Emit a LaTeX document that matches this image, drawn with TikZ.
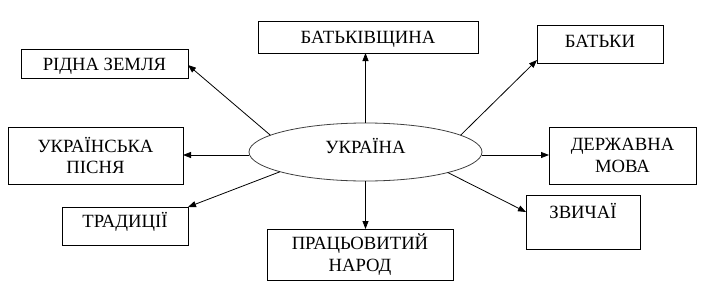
\documentclass[tikz,border=0pt]{standalone}
\usepackage{fontspec}
\setmainfont{Liberation Serif}
\usetikzlibrary{arrows.meta,shapes.geometric}
\begin{document}
\begin{tikzpicture}[x=0.75pt,y=-0.75pt,
  every node/.style={font=\fontsize{14}{16.1}\selectfont},
  boxnode/.style={draw,line width=0.75pt,rectangle,inner sep=0pt,outer sep=0pt,align=center},
  conn/.style={line width=0.6pt,-{Triangle[length=6pt,width=4.5pt]}}]
\useasboundingbox (0,0) rectangle (708,297);
\node[draw=black!75,line width=0.6pt,ellipse,inner sep=0pt,outer sep=0pt,minimum width=233*0.75pt,minimum height=58*0.75pt,text height=10pt,text depth=8.3pt] (e) at (365.5,152) {УКРАЇНА};
\node[boxnode,minimum width=167*0.75pt,minimum height=29*0.75pt,text height=11pt,text depth=0.3pt] (rid) at (104.5,63.5) {РІДНА ЗЕМЛЯ};
\node[boxnode,minimum width=220*0.75pt,minimum height=32*0.75pt,text height=10pt,text depth=0.3pt] (bat) at (368,37) {БАТЬКІВЩИНА};
\node[boxnode,minimum width=126*0.75pt,minimum height=38*0.75pt,text height=10pt,text depth=5.3pt] (batk) at (600,44) {БАТЬКИ};
\node[boxnode,minimum width=147*0.75pt,minimum height=57*0.75pt] (dm) at (622.5,155.5) {ДЕРЖАВНА\\МОВА};
\node[boxnode,minimum width=114*0.75pt,minimum height=54*0.75pt,text height=10pt,text depth=15.8pt] (zv) at (583,222) {ЗВИЧАЇ};
\node[boxnode,minimum width=186*0.75pt,minimum height=51*0.75pt] (pn) at (360,254.5) {ПРАЦЬОВИТИЙ\\НАРОД};
\node[boxnode,minimum width=126*0.75pt,minimum height=38*0.75pt,text height=10pt,text depth=7.6pt] (tr) at (125,226) {ТРАДИЦІЇ};
\node[boxnode,minimum width=175*0.75pt,minimum height=57*0.75pt] (up) at (95.5,155.5) {УКРАЇНСЬКА\\ПІСНЯ};
\draw[conn] (e.170.3) -- ([yshift=-1.1pt]rid.east);
\draw[conn] (e.north) -- (e.north |- bat.south);
\draw[conn] (e.10.3) -- ([yshift=-12pt]batk.west);
\draw[conn] ([yshift=-2.25pt]e.east) -- ([yshift=-2.25pt]e.east -| dm.west);
\draw[conn] (e.-14.8) -- ([yshift=7.5pt]zv.west);
\draw[conn] (e.south) -- (e.south |- pn.north);
\draw[conn] (e.193.5) -- (tr.north east);
\draw[conn] ([yshift=-2.25pt]e.west) -- ([yshift=-2.25pt]e.west -| up.east);
\end{tikzpicture}
\end{document}
